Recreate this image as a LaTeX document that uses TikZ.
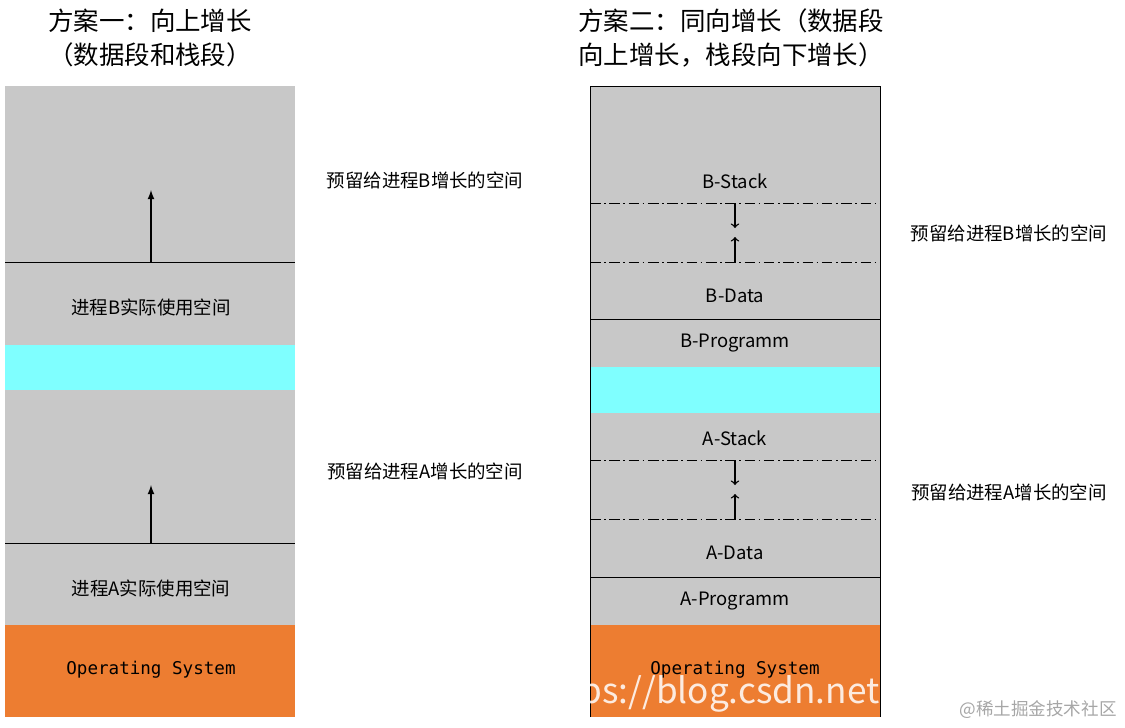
\documentclass[tikz,border=0pt]{standalone}
\usepackage{fontspec}
\setmainfont{Noto Sans CJK SC}
\setmonofont{DejaVu Sans Mono}
\usetikzlibrary{arrows}
\definecolor{mgray}{HTML}{C8C8C8}
\definecolor{mcyan}{HTML}{7FFFFF}
\definecolor{morange}{HTML}{ED7D31}
\tikzstyle{lbl} = [font=\fontsize{10.5}{12}\selectfont]
\tikzstyle{ttl} = [font=\fontsize{14.5}{17}\selectfont]
\tikzstyle{osl} = [font=\ttfamily\fontsize{10}{12}\selectfont]
\tikzstyle{ddline} = [dash pattern=on 6pt off 2pt on 1pt off 2pt, thin]
\begin{document}
\begin{tikzpicture}[x=0.02cm, y=-0.02cm]
    \useasboundingbox (0,0) rectangle (1125,727);
    % left column
    \fill[mgray] (5,86) rectangle (295,345);
    \fill[mcyan] (5,345) rectangle (295,390);
    \fill[mgray] (5,390) rectangle (295,625);
    \fill[morange] (5,625) rectangle (295,717);
    \coordinate (lb1) at (5,262); \coordinate (lb2) at (295,262);
    \coordinate (la1) at (5,543); \coordinate (la2) at (295,543);
    \draw (lb1) -- (lb2);
    \draw (la1) -- (la2);
    \coordinate (ab0) at (151,262); \coordinate (ab1) at (151,190);
    \coordinate (aa0) at (151,543); \coordinate (aa1) at (151,485);
    \draw[->,>=latex,line width=0.8pt] (ab0) -- (ab1);
    \draw[->,>=latex,line width=0.8pt] (aa0) -- (aa1);
    \node[lbl] (lbuse) at (151,307) {进程B实际使用空间};
    \node[lbl] (lause) at (151,588) {进程A实际使用空间};
    \node[osl] (los) at (151,670) {Operating System};
    \node[lbl] (lbres) at (425,180) {预留给进程B增长的空间};
    \node[lbl] (lares) at (425,471) {预留给进程A增长的空间};
    \node[ttl] (lt1) at (150,21) {方案一：向上增长};
    \node[ttl] (lt2) at (150,55) {（数据段和栈段）};

    % right column
    \fill[mgray] (590,86) rectangle (880,367);
    \fill[mcyan] (590,367) rectangle (880,413);
    \fill[mgray] (590,413) rectangle (880,625);
    \fill[morange] (590,625) rectangle (880,717);
    \draw[thin] (590,717) -- (590,86) -- (880,86) -- (880,717);
    \draw[ddline] (590,203) -- (880,203);
    \draw[ddline] (590,262) -- (880,262);
    \draw (590,319) -- (880,319);
    \draw[ddline] (590,460) -- (880,460);
    \draw[ddline] (590,519) -- (880,519);
    \draw (590,577) -- (880,577);
    \coordinate (sb0) at (735,204); \coordinate (sb1) at (735,228);
    \coordinate (db0) at (735,262); \coordinate (db1) at (735,237);
    \coordinate (sa0) at (735,461); \coordinate (sa1) at (735,485);
    \coordinate (da0) at (735,519); \coordinate (da1) at (735,494);
    \draw[->,>=to,line width=0.8pt] (sb0) -- (sb1);
    \draw[->,>=to,line width=0.8pt] (db0) -- (db1);
    \draw[->,>=to,line width=0.8pt] (sa0) -- (sa1);
    \draw[->,>=to,line width=0.8pt] (da0) -- (da1);
    \node[lbl] (bstack) at (735,181) {B-Stack};
    \node[lbl] (bdata) at (735,296) {B-Data};
    \node[lbl] (bprog) at (735,343) {B-Programm};
    \node[lbl] (astack) at (735,438) {A-Stack};
    \node[lbl] (adata) at (735,553) {A-Data};
    \node[lbl] (aprog) at (735,601) {A-Programm};
    \node[osl] (ros) at (735,670) {Operating System};
    \node[lbl] (rbres) at (1009,233) {预留给进程B增长的空间};
    \node[lbl] (rares) at (1009,492) {预留给进程A增长的空间};
    \node[ttl,anchor=west] (rt1) at (572,21) {方案二：同向增长（数据段};
    \node[ttl,anchor=west] (rt2) at (572,55) {向上增长，栈段向下增长）};

    % watermarks
    \node[font=\fontsize{20}{22}\selectfont, text=white, opacity=0.85] (wm1) at (730,694) {ps://blog.csdn.net};
    \node[font=\fontsize{10}{12}\selectfont, text=gray!70] (wm2) at (1038,710) {@稀土掘金技术社区};
\end{tikzpicture}
\end{document}
